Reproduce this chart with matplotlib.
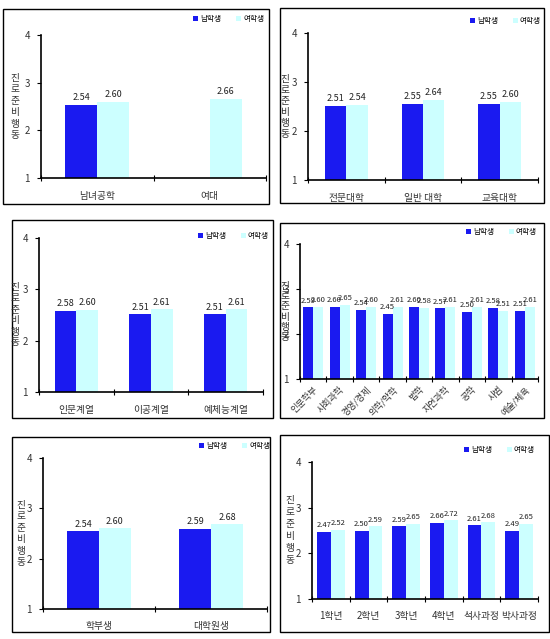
import numpy as np
import matplotlib
matplotlib.use("Agg")
import matplotlib.pyplot as plt
from matplotlib.patches import Rectangle

plt.rcParams['font.family'] = ['Noto Sans CJK KR', 'DejaVu Sans']

# -----------------------------
# Data
# -----------------------------
series_names = ['남학생', '여학생']

cats1 = ['남녀공학', '여대']
male1 = [2.54, np.nan]
female1 = [2.60, 2.66]

cats2 = ['전문대학', '일반 대학', '교육대학']
male2 = [2.51, 2.55, 2.55]
female2 = [2.54, 2.64, 2.60]

cats3 = ['인문계열', '이공계열', '예체능계열']
male3 = [2.58, 2.51, 2.51]
female3 = [2.60, 2.61, 2.61]

cats4 = ['인문학부', '사회과학', '경영/경제', '의학/약학', '법학', '자연과학', '공학', '사범', '예술/체육']
male4 = [2.59, 2.60, 2.54, 2.45, 2.60, 2.57, 2.50, 2.58, 2.51]
female4 = [2.60, 2.65, 2.60, 2.61, 2.58, 2.61, 2.61, 2.51, 2.61]

cats5 = ['학부생', '대학원생']
male5 = [2.54, 2.59]
female5 = [2.60, 2.68]

cats6 = ['1학년', '2학년', '3학년', '4학년', '석사과정', '박사과정']
male6 = [2.47, 2.50, 2.59, 2.66, 2.61, 2.49]
female6 = [2.52, 2.59, 2.65, 2.72, 2.68, 2.65]

yticks = [1, 2, 3, 4]
ylabel = '진로준비행동'

# -----------------------------
# Layout (pixel positions in the 550x639 image)
# -----------------------------
W, H = 550, 639
BLUE = '#1a1af0'
CYAN = '#ccffff'

panels = [
    # cats, male, female, border(x0,y0,x1,y1), axes(l,r,t,b), ylabel (x, step), legend(xr, yc), bar width, rotate
    (cats1, male1, female1, (3, 9, 269, 204), (41, 266, 35, 178), (15, 11.4), (264, 19), 0.285, False),
    (cats2, male2, female2, (280, 8, 544, 203), (308, 538, 33, 180), (285, 11), (541, 21), 0.28, False),
    (cats3, male3, female3, (12, 220, 273, 418), (39, 263, 238, 392), (15, 11), (269, 236), 0.29, False),
    (cats4, male4, female4, (280, 223, 544, 418), (300, 538, 244, 379), (285, 10.2), (537, 232), 0.38, True),
    (cats5, male5, female5, (12, 437, 270, 632), (43, 267, 458, 609), (21, 11.4), (270, 446), 0.285, False),
    (cats6, male6, female6, (280, 435, 549, 632), (312, 538, 462, 599), (290, 12), (535, 450), 0.37, False),
]

fig = plt.figure(figsize=(W / 100, H / 100), dpi=100)

for cats, male, female, border, box, ylab, leg, bw, rotate in panels:
    # outer frame around each chart
    bx0, by0, bx1, by1 = border
    fig.patches.append(Rectangle((bx0 / W, 1 - by1 / H), (bx1 - bx0) / W, (by1 - by0) / H,
                                 transform=fig.transFigure, fill=False,
                                 edgecolor='black', linewidth=1.0))

    l, r, t, b = box
    ax = fig.add_axes([l / W, 1 - b / H, (r - l) / W, (b - t) / H])
    n = len(cats)
    x = np.arange(n)
    m = np.array(male, dtype=float)
    f = np.array(female, dtype=float)

    b1 = ax.bar(x - bw / 2, np.nan_to_num(m, nan=0), bw, color=BLUE, label=series_names[0])
    b2 = ax.bar(x + bw / 2, f, bw, color=CYAN, label=series_names[1])

    vfs = 5.5 if n > 5 else 6.5
    ax.bar_label(b1, labels=['' if np.isnan(v) else f'{v:.2f}' for v in m],
                 padding=2, fontsize=vfs, color='#222222')
    ax.bar_label(b2, labels=[f'{v:.2f}' for v in f],
                 padding=2, fontsize=vfs, color='#222222')

    ax.set_xlim(-0.5, n - 0.5)
    ax.set_ylim(1, 4)
    ax.set_yticks(yticks)
    ax.tick_params(axis='y', direction='out', length=3, width=0.8,
                   labelsize=7, labelcolor='#333333', pad=5)

    # major ticks at category boundaries, labels on minor ticks at centres
    ax.set_xticks(np.arange(n + 1) - 0.5)
    ax.set_xticklabels([])
    ax.tick_params(axis='x', which='major', direction='inout', length=4, width=0.8)
    ax.set_xticks(x, minor=True)
    if rotate:
        ax.set_xticklabels(cats, minor=True, rotation=45, ha='right',
                           rotation_mode='anchor', fontsize=6.5, color='#333333')
        ax.tick_params(axis='x', which='minor', length=0, pad=4)
    else:
        ax.set_xticklabels(cats, minor=True, fontsize=7, color='#333333')
        ax.tick_params(axis='x', which='minor', length=0, pad=9)

    for side in ['top', 'right']:
        ax.spines[side].set_visible(False)
    for side in ['left', 'bottom']:
        ax.spines[side].set_linewidth(1.2)
        ax.spines[side].set_color('black')

    # stacked vertical y label, one character per line
    yc = (t + b) / 2
    k = len(ylabel)
    for i, ch in enumerate(ylabel):
        yy = yc + (i - (k - 1) / 2) * ylab[1]
        fig.text(ylab[0] / W, 1 - yy / H, ch, ha='center', va='center',
                 fontsize=7, color='#333333')

    ax.legend(loc='center right', bbox_to_anchor=(leg[0] / W, 1 - leg[1] / H),
              bbox_transform=fig.transFigure, ncol=2, frameon=False, fontsize=5.5,
              handlelength=0.7, handleheight=0.7, handletextpad=0.2,
              columnspacing=2.0, borderpad=0, borderaxespad=0)

fig.savefig('out.png', dpi=100)
